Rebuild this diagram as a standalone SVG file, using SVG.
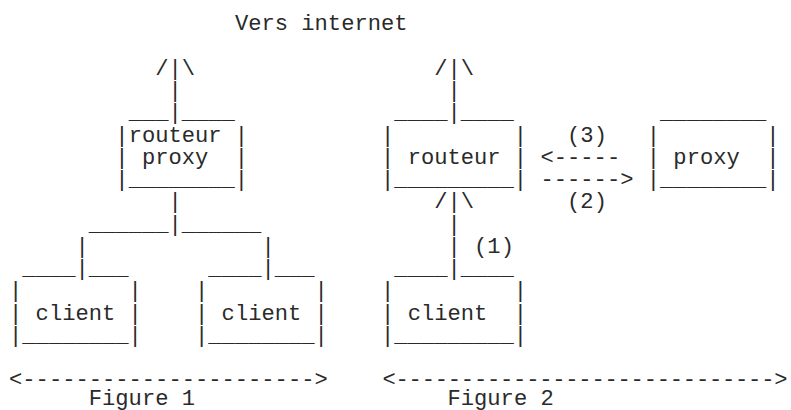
<svg xmlns="http://www.w3.org/2000/svg" width="791" height="410" viewBox="0 0 791 410" xml:space="preserve">
<style>
text { font-family: "Liberation Mono", "Courier New", monospace; font-size: 22.14px; fill: #2a2a2a; white-space: pre; }
</style>
<rect width="791" height="410" fill="#fff"/>
<g id="title">
<text x="234.93" y="30.25">Vers internet</text>
</g>
<g id="fig1-router">
<text x="128.64" y="119.25">___</text>
<text x="181.79" y="119.25">____</text>
<text x="115.36" y="141.5">|routeur |</text>
<text x="115.36" y="163.75">| proxy  |</text>
<text x="115.36" y="186">|________|</text>
</g>
<g id="fig1-client-left">
<text x="22.36" y="275">____</text>
<text x="88.79" y="275">___</text>
<text x="9.07" y="297.25">|        |</text>
<text x="9.07" y="319.5">| client |</text>
<text x="9.07" y="341.75">|________|</text>
</g>
<g id="fig1-client-right">
<text x="208.36" y="275">____</text>
<text x="274.79" y="275">___</text>
<text x="195.07" y="297.25">|        |</text>
<text x="195.07" y="319.5">| client |</text>
<text x="195.07" y="341.75">|________|</text>
</g>
<g id="fig2-router">
<text x="394.36" y="119.25">____</text>
<text x="460.79" y="119.25">____</text>
<text x="381.08" y="141.5">|         |</text>
<text x="381.08" y="163.75">| routeur |</text>
<text x="381.08" y="186">|_________|</text>
</g>
<g id="fig2-proxy">
<text x="660.08" y="119.25">________</text>
<text x="646.8" y="141.5">|        |</text>
<text x="646.8" y="163.75">| proxy  |</text>
<text x="646.8" y="186">|________|</text>
</g>
<g id="fig2-client">
<text x="394.36" y="275">____</text>
<text x="460.79" y="275">____</text>
<text x="381.08" y="297.25">|         |</text>
<text x="381.08" y="319.5">| client  |</text>
<text x="381.08" y="341.75">|_________|</text>
</g>
<g id="connectors">
<text x="155.22" y="74.75">/|\</text>
<text x="168.5" y="97">|</text>
<text x="168.5" y="119.25">|</text>
<text x="168.5" y="208.25">|</text>
<text x="88.79" y="230.5">______|______</text>
<text x="75.5" y="252.75">|</text>
<text x="261.5" y="252.75">|</text>
<text x="75.5" y="275">|</text>
<text x="261.5" y="275">|</text>
<text x="434.22" y="74.75">/|\</text>
<text x="447.51" y="97">|</text>
<text x="447.51" y="119.25">|</text>
<text x="434.22" y="208.25">/|\</text>
<text x="447.51" y="230.5">|</text>
<text x="447.51" y="252.75">|</text>
<text x="447.51" y="275">|</text>
<text x="567.08" y="141.5">(3)</text>
<text x="540.51" y="163.75">&lt;-----</text>
<text x="540.51" y="186">------&gt;</text>
<text x="567.08" y="208.25">(2)</text>
<text x="474.08" y="252.75">(1)</text>
</g>
<g id="captions">
<text x="9.07" y="386.25">&lt;----------------------&gt;</text>
<text x="88.79" y="404.5">Figure 1</text>
<text x="382.5" y="386.25" textLength="405" lengthAdjust="spacing">&lt;-----------------------------&gt;</text>
<text x="447.51" y="404.5">Figure 2</text>
</g>
</svg>
